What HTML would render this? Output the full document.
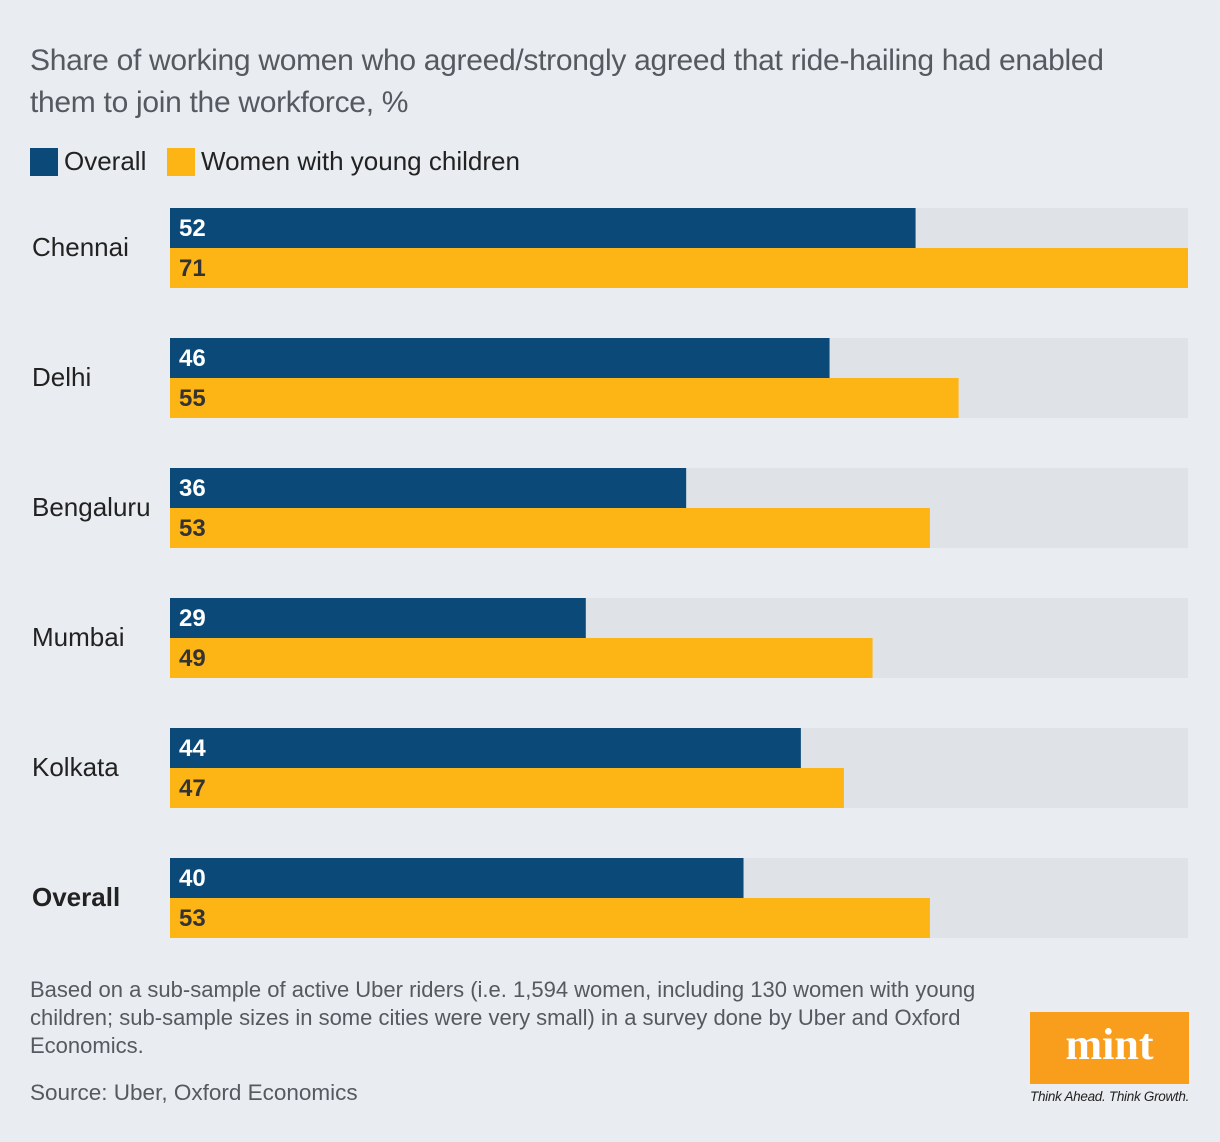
<!DOCTYPE html>
<html><head><meta charset="utf-8">
<style>
body{margin:0;width:1220px;height:1142px;background:#e9ecf0;font-family:"Liberation Sans",sans-serif;position:relative;overflow:hidden}
.t{position:absolute;left:30px;top:40px;font-size:30px;line-height:42px;color:#555a60;width:1115px;letter-spacing:-0.3px}
.leg{position:absolute;top:146px;font-size:26px;color:#222;display:flex;align-items:center}
.sw{width:28px;height:28px;margin-right:6px}
.note{position:absolute;left:30px;top:976px;width:965px;font-size:22px;line-height:28px;color:#555a60}
.src{position:absolute;left:30px;top:1080px;font-size:22.5px;color:#555a60}
.logo{position:absolute;left:1030px;top:1012px;width:159px;height:72px;background:#f99d1c;color:#fff;font-family:"Liberation Serif",serif;font-weight:bold;font-size:44px;text-align:center;line-height:66px}
.tag{position:absolute;left:1030px;top:1089px;font-size:13.5px;font-style:italic;color:#222;letter-spacing:-0.3px}
</style></head><body>
<div class="t">Share of working women who agreed/strongly agreed that ride-hailing had enabled them to join the workforce, %</div>
<div class="leg" style="left:30px"><div class="sw" style="background:#0b4a78"></div>Overall</div>
<div class="leg" style="left:167px"><div class="sw" style="background:#fdb415"></div>Women with young children</div>
<svg id="chart" width="1220" height="960" style="position:absolute;left:0;top:0"></svg>
<div class="note">Based on a sub-sample of active Uber riders (i.e. 1,594 women, including 130 women with young children; sub-sample sizes in some cities were very small) in a survey done by Uber and Oxford Economics.</div>
<div class="src">Source: Uber, Oxford Economics</div>
<div class="logo">mint</div>
<div class="tag">Think Ahead. Think Growth.</div>
<script>
const categories=["Chennai","Delhi","Bengaluru","Mumbai","Kolkata","Overall"];
const overallValues=[52,46,36,29,44,40];
const childValues=[71,55,53,49,47,53];
const maxVal=71;
const x0=170,x1=1188,top0=208,step=130,bh=40;
const xs=v=>x0+(x1-x0)*v/maxVal;
const svg=document.getElementById('chart');
const NS="http://www.w3.org/2000/svg";
function mk(tag,attrs){const e=document.createElementNS(NS,tag);for(const k in attrs)e.setAttribute(k,attrs[k]);svg.appendChild(e);return e;}
categories.forEach((c,i)=>{
  const y=top0+i*step;
  const tr=mk('rect',{x:x0,y:y,width:x1-x0,height:bh*2,fill:'#dfe2e7'});
  
  
  const b1=mk('rect',{x:x0,y:y,width:xs(overallValues[i])-x0,height:bh,fill:'#0b4a78'});
  
  
  const b2=mk('rect',{x:x0,y:y+bh,width:xs(childValues[i])-x0,height:bh,fill:'#fdb415'});
  
  
  const l1=mk('text',{x:x0+9,y:y+28,fill:'#fff','font-size':24,'font-weight':'bold','font-family':'Liberation Sans'});
  l1.textContent=overallValues[i];
  
  
  const l2=mk('text',{x:x0+9,y:y+bh+28,fill:'#333','font-size':24,'font-weight':'bold','font-family':'Liberation Sans'});
  l2.textContent=childValues[i];
  
  
  const cl=mk('text',{x:32,y:y+48,fill:'#222','font-size':26,'font-family':'Liberation Sans','font-weight':c==='Overall'?'bold':'normal'});
  cl.textContent=c;
  
  
});
</script>
</body></html>
